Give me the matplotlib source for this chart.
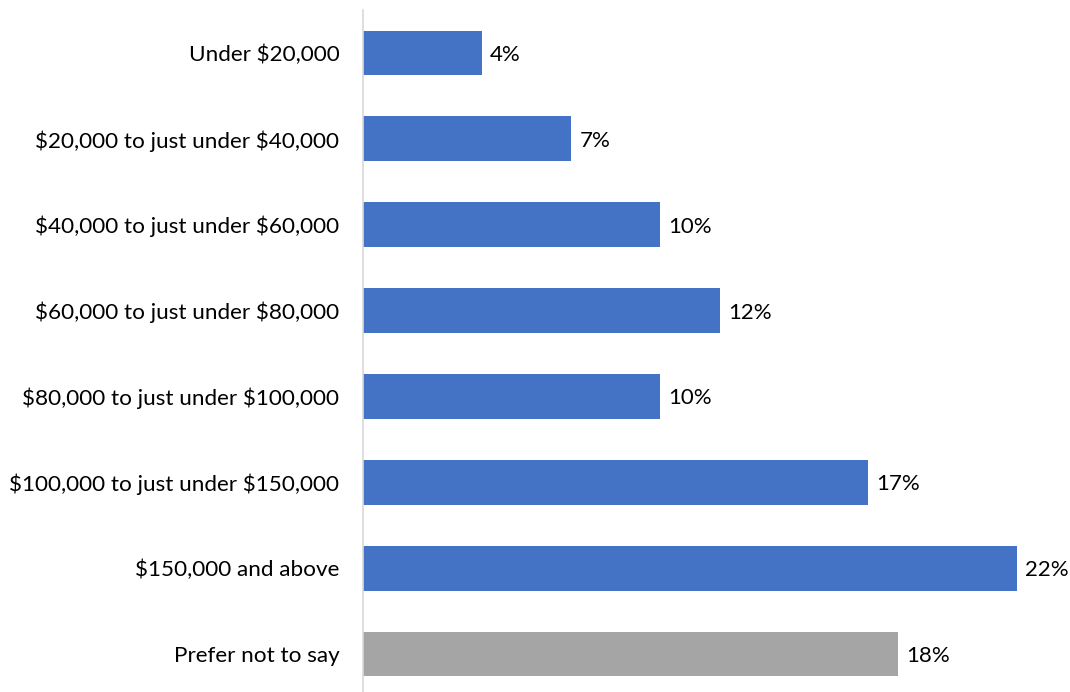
import numpy as np
from matplotlib import pyplot as plt

plt.rcParams['font.family'] = ['Lato', 'DejaVu Sans']
plt.rcParams['text.parse_math'] = False

categories = [
    "Under $20,000",
    "$20,000 to just under $40,000",
    "$40,000 to just under $60,000",
    "$60,000 to just under $80,000",
    "$80,000 to just under $100,000",
    "$100,000 to just under $150,000",
    "$150,000 and above",
    "Prefer not to say",
]
values = [4, 7, 10, 12, 10, 17, 22, 18]
bar_colors = ["#4472C4"] * 7 + ["#A5A5A5"]

fig = plt.figure(figsize=(10.7, 6.92), dpi=100)
ax = fig.add_axes([363 / 1070, -5 / 692, 697 / 1070, 687 / 692])

y = np.arange(len(categories))
ax.barh(y, values, height=0.52, color=bar_colors)

for yi, v in zip(y, values):
    ax.annotate("%d%%" % v, (v, yi), xytext=(6, 0), textcoords="offset points",
                ha="left", va="center_baseline", fontsize=16, color="#000000")

ax.set_ylim(len(categories) - 0.5, -0.5)
ax.set_xlim(0, 23.45)
ax.set_yticks(y)
ax.set_yticklabels(categories, fontsize=16.2)
ax.tick_params(axis="y", length=0, pad=17)
ax.set_xticks([])

for s in ["top", "right", "bottom"]:
    ax.spines[s].set_visible(False)
ax.spines["left"].set_color("#D9D9D9")
ax.spines["left"].set_linewidth(1.2)

fig.savefig("out.png", dpi=100)
